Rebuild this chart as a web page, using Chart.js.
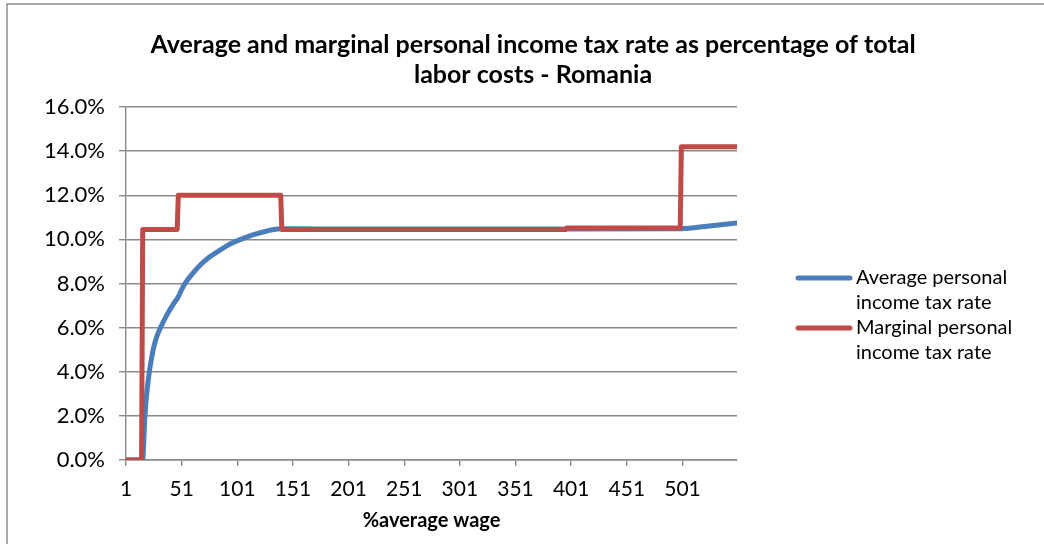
<!DOCTYPE html>
<html>
<head>
<meta charset="utf-8">
<script src="https://cdn.jsdelivr.net/npm/chart.js@4"></script>
<style>
  html, body { margin: 0; padding: 0; background: #fff; }
</style>
</head>
<body>
<canvas id="taxChart" width="1044" height="544"></canvas>
<script>
// income as % of the average wage, and the rates (in %) read at those points
var avgWage  = [1, 16, 17, 18, 20, 22, 25, 28, 32, 38, 44, 48, 51, 54, 60, 68, 76, 85, 95, 104, 115, 127, 140, 150, 200, 300, 400, 500, 525, 550];
var avgRate  = [0, 0, 0.9, 2.0, 3.2, 4.0, 4.9, 5.5, 6.0, 6.6, 7.1, 7.4, 7.72, 8.0, 8.4, 8.85, 9.2, 9.5, 9.8, 10.0, 10.2, 10.37, 10.48, 10.48, 10.47, 10.47, 10.47, 10.48, 10.61, 10.74];

var margWage = [1, 15, 16, 47, 48, 140, 141, 396, 397, 499, 500, 550];
var margRate = [0, 0, 10.45, 10.45, 12.0, 12.0, 10.45, 10.45, 10.52, 10.52, 14.2, 14.2];

var wageTicks = [1, 51, 101, 151, 201, 251, 301, 351, 401, 451, 501];
var rateTicks = [0, 2, 4, 6, 8, 10, 12, 14, 16];

var titleLines = ['Average and marginal personal income tax rate as percentage of total', 'labor costs - Romania'];
var seriesNames = [['Average personal', 'income tax rate'], ['Marginal personal', 'income tax rate']];

var FONT = 'Lato';
var GRID = '#898989';

function pairs(xs, ys) {
  return xs.map(function (x, i) { return { x: x, y: ys[i] }; });
}

// outer frame + title
var frame = {
  id: 'frame',
  beforeDraw: function (chart) {
    var ctx = chart.ctx;
    ctx.save();
    ctx.fillStyle = '#fff';
    ctx.fillRect(0, 0, chart.width, chart.height);
    ctx.strokeStyle = '#8f8f8f';
    ctx.lineWidth = 1.5;
    ctx.beginPath();
    ctx.moveTo(7, chart.height);
    ctx.lineTo(7, 4);
    ctx.lineTo(chart.width, 4);
    ctx.stroke();
    ctx.restore();
  },
  afterDraw: function (chart) {
    var ctx = chart.ctx;
    ctx.save();
    ctx.fillStyle = '#000';
    ctx.font = 'bold 25px ' + FONT;
    ctx.textAlign = 'center';
    ctx.textBaseline = 'middle';
    titleLines.forEach(function (t, i) {
      ctx.fillText(t, 533, 45 + i * 30);
    });
    ctx.restore();
  }
};

// legend on the right, labels wrap over two lines
var sideLegend = {
  id: 'sideLegend',
  afterDraw: function (chart) {
    var ctx = chart.ctx, area = chart.chartArea;
    var x = area.right + 61, y = area.top + 171;
    ctx.save();
    ctx.font = '20px ' + FONT;
    ctx.textBaseline = 'middle';
    ctx.fillStyle = '#000';
    seriesNames.forEach(function (lines, i) {
      var ds = chart.data.datasets[i];
      ctx.strokeStyle = ds.borderColor;
      ctx.lineWidth = 5;
      ctx.lineCap = 'round';
      ctx.beginPath();
      ctx.moveTo(x, y);
      ctx.lineTo(x + 52, y);
      ctx.stroke();
      lines.forEach(function (t, j) {
        ctx.fillText(t, x + 58, y + j * 25);
      });
      y += 50;
    });
    ctx.restore();
  }
};

var chart = new Chart(document.getElementById('taxChart'), {
  type: 'line',
  data: {
    datasets: [{
      label: seriesNames[0].join(' '),
      data: pairs(avgWage, avgRate),
      borderColor: '#4a7ebb',
      borderWidth: 5,
      cubicInterpolationMode: 'monotone',
      order: 1
    }, {
      label: seriesNames[1].join(' '),
      data: pairs(margWage, margRate),
      borderColor: '#be4b48',
      borderWidth: 5,
      tension: 0,
      order: 0
    }]
  },
  options: {
    responsive: false,
    animation: false,
    layout: { padding: { top: 107, right: 307, left: 0, bottom: 0 } },
    elements: {
      point: { radius: 0 },
      line: { borderCapStyle: 'round', borderJoinStyle: 'round', fill: false }
    },
    plugins: {
      legend: { display: false },
      title: { display: false },
      tooltip: { enabled: false }
    },
    scales: {
      x: {
        type: 'linear',
        min: 1,
        max: 550,
        afterBuildTicks: function (s) { s.ticks = wageTicks.map(function (v) { return { value: v }; }); },
        afterFit: function (s) { s.height = 84; },
        grid: { drawOnChartArea: false, tickLength: 6, color: GRID, lineWidth: 1.4 },
        border: { color: GRID, width: 1.4 },
        ticks: {
          color: '#000',
          font: { family: FONT, size: 21 },
          padding: 11,
          maxRotation: 0,
          autoSkip: false,
          callback: function (v) { return v; }
        },
        title: {
          display: true,
          text: '%average wage',
          color: '#000',
          font: { family: FONT, size: 20, weight: 'bold' },
          padding: { top: 0, bottom: 11 }
        }
      },
      y: {
        min: 0,
        max: 16,
        afterBuildTicks: function (s) { s.ticks = rateTicks.map(function (v) { return { value: v }; }); },
        afterFit: function (s) { s.width = 126; },
        grid: { color: GRID, lineWidth: 1.4, tickLength: 7 },
        border: { color: GRID, width: 1.4 },
        ticks: {
          color: '#000',
          font: { family: FONT, size: 22 },
          padding: 14,
          callback: function (v) { return v.toFixed(1) + '%'; }
        }
      }
    }
  },
  plugins: [frame, sideLegend]
});
</script>
</body>
</html>
